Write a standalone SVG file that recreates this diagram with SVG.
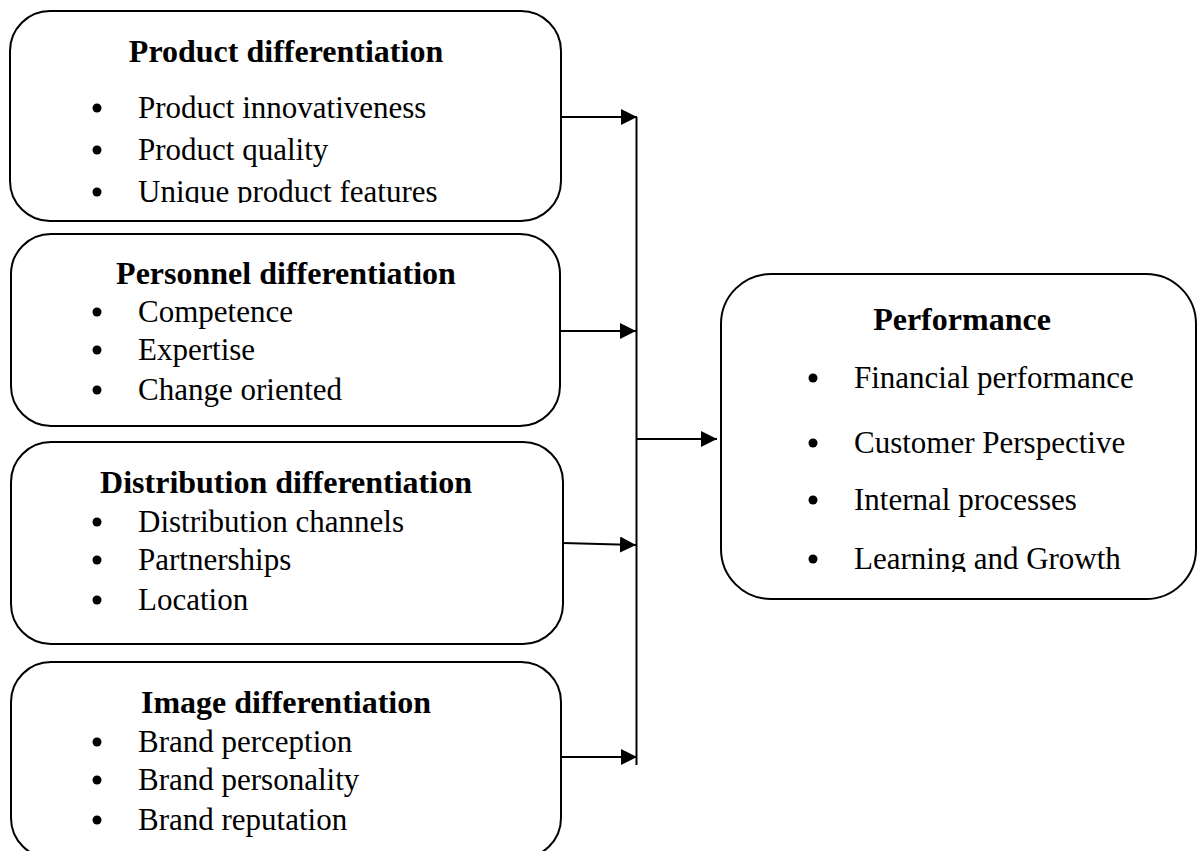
<svg xmlns="http://www.w3.org/2000/svg" width="1198" height="851" viewBox="0 0 1198 851">
<style>
.box{fill:#fff;stroke:#000;stroke-width:2}
.t{font-family:"Liberation Serif","Times New Roman",serif;font-size:32px;font-weight:bold;text-anchor:middle;fill:#000}
.b{font-family:"Liberation Serif","Times New Roman",serif;font-size:31px;fill:#000}
.dot{fill:#000}
.ln{stroke:#000;stroke-width:2;fill:none}
</style>
<defs>
<marker id="ah" markerUnits="userSpaceOnUse" markerWidth="17" markerHeight="16" refX="16" refY="8" orient="auto">
<path d="M0,0 L16,8 L0,16 Z" fill="#000"/>
</marker>
<clipPath id="c1"><rect x="0" y="0" width="600" height="203"/></clipPath>
<clipPath id="c5"><rect x="700" y="0" width="498" height="572"/></clipPath>
</defs>
<rect width="1198" height="851" fill="#fff"/>
<g id="product">
<rect class="box" x="10" y="11" width="551" height="210" rx="40" ry="40"/>
<text class="t" x="286" y="62">Product differentiation</text>
<circle class="dot" cx="97" cy="108" r="4.5"/>
<text class="b" x="138" y="118">Product innovativeness</text>
<circle class="dot" cx="97" cy="150" r="4.5"/>
<text class="b" x="138" y="160">Product quality</text>
<circle class="dot" cx="97" cy="192" r="4.5"/>
<text class="b" x="138" y="202" clip-path="url(#c1)">Unique product features</text>
</g>
<g id="personnel">
<rect class="box" x="11" y="234" width="549" height="192" rx="40" ry="40"/>
<text class="t" x="286" y="284">Personnel differentiation</text>
<circle class="dot" cx="97" cy="312" r="4.5"/>
<text class="b" x="138" y="322">Competence</text>
<circle class="dot" cx="97" cy="350" r="4.5"/>
<text class="b" x="138" y="360">Expertise</text>
<circle class="dot" cx="97" cy="390" r="4.5"/>
<text class="b" x="138" y="400">Change oriented</text>
</g>
<g id="distribution">
<rect class="box" x="11" y="442" width="552" height="202" rx="40" ry="40"/>
<text class="t" x="286" y="493">Distribution differentiation</text>
<circle class="dot" cx="97" cy="522" r="4.5"/>
<text class="b" x="138" y="532">Distribution channels</text>
<circle class="dot" cx="97" cy="560" r="4.5"/>
<text class="b" x="138" y="570">Partnerships</text>
<circle class="dot" cx="97" cy="600" r="4.5"/>
<text class="b" x="138" y="610">Location</text>
</g>
<g id="image">
<rect class="box" x="11" y="662" width="550" height="196" rx="40" ry="40"/>
<text class="t" x="286" y="713">Image differentiation</text>
<circle class="dot" cx="97" cy="742" r="4.5"/>
<text class="b" x="138" y="752">Brand perception</text>
<circle class="dot" cx="97" cy="780" r="4.5"/>
<text class="b" x="138" y="790">Brand personality</text>
<circle class="dot" cx="97" cy="820" r="4.5"/>
<text class="b" x="138" y="830">Brand reputation</text>
</g>
<g id="performance">
<rect class="box" x="721" y="274" width="475" height="325" rx="50" ry="50"/>
<text class="t" x="962" y="330">Performance</text>
<circle class="dot" cx="813" cy="378" r="4.5"/>
<text class="b" x="854" y="388">Financial performance</text>
<circle class="dot" cx="813" cy="443" r="4.5"/>
<text class="b" x="854" y="453">Customer Perspective</text>
<circle class="dot" cx="813" cy="500" r="4.5"/>
<text class="b" x="854" y="510">Internal processes</text>
<circle class="dot" cx="813" cy="559" r="4.5"/>
<text class="b" x="854" y="569" clip-path="url(#c5)">Learning and Growth</text>
</g>
<g id="connectors">
<line class="ln" x1="636.5" y1="117" x2="636.5" y2="765"/>
<line class="ln" x1="561" y1="117" x2="637" y2="117" marker-end="url(#ah)"/>
<line class="ln" x1="560" y1="331" x2="636" y2="331" marker-end="url(#ah)"/>
<line class="ln" x1="563" y1="543" x2="636" y2="545" marker-end="url(#ah)"/>
<line class="ln" x1="561" y1="757" x2="637" y2="757" marker-end="url(#ah)"/>
<line class="ln" x1="636.5" y1="439" x2="717" y2="439" marker-end="url(#ah)"/>
</g>
</svg>
